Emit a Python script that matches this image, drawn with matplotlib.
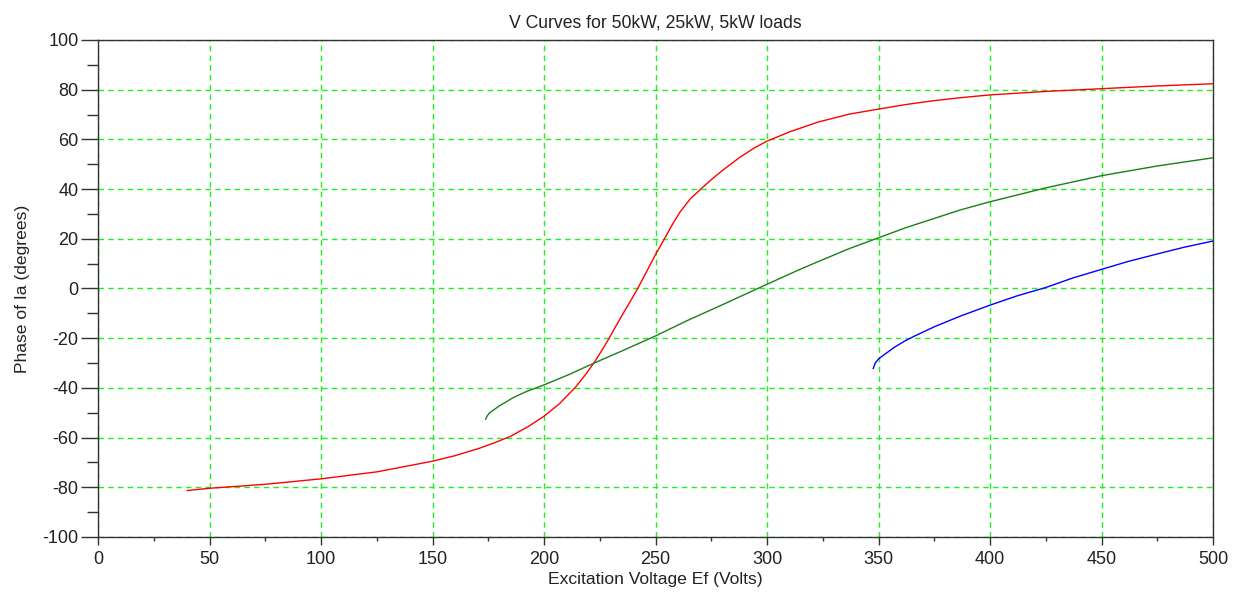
import matplotlib
matplotlib.use("Agg")
import matplotlib.pyplot as plt
from matplotlib.ticker import MultipleLocator

# values
ef_50kw = [40, 50, 75, 100, 125, 150, 160, 171, 178, 185, 193, 200, 207, 214, 219,
           222.7, 226, 229.2, 232.3, 235.5, 238.8, 242, 246, 250, 254, 257.7, 261,
           265.5, 271, 275.5, 280, 287.5, 294, 300, 310, 323, 337, 350, 362, 375,
           387, 400, 425, 450, 475, 500]
phase_50kw = [-81.3, -80.4, -78.8, -76.6, -73.8, -69.5, -67.3, -64.3, -62.0, -59.5,
              -55.5, -51.4, -46.3, -39.8, -34.2, -29.5, -24.8, -20.0, -15.0, -10.0,
              -5.0, 0.0, 6.8, 13.7, 20.0, 26.0, 30.8, 36.0, 40.6, 44.2, 47.5, 52.6,
              56.4, 59.3, 63.0, 67.0, 70.2, 72.2, 74.0, 75.6, 76.8, 77.9, 79.3, 80.4,
              81.5, 82.4]

ef_25kw = [173.8, 174.5, 175.5, 177.2, 180, 183.1, 186, 192, 200, 211, 222.5, 236,
           250, 264, 278.6, 290, 300, 314, 325, 337, 350, 362, 375, 387, 400, 425,
           450, 475, 500]
phase_25kw = [-52.6, -51.3, -50.1, -49.0, -47.2, -45.6, -44.0, -41.5, -38.8, -34.7,
              -30.0, -24.7, -19.1, -13.0, -7.1, -2.4, 1.7, 7.4, 11.6, 16.1, 20.4,
              24.4, 28.2, 31.7, 34.9, 40.5, 45.4, 49.3, 52.6]

ef_5kw = [347.6, 348.5, 350, 353.2, 357, 362, 366.7, 375, 387, 400, 412, 425, 437,
          450, 462, 475, 487, 500]
phase_5kw = [-32.2, -30.0, -28.3, -26.2, -23.7, -21.0, -18.9, -15.4, -11.0, -6.7,
             -3.0, 0.4, 4.2, 7.7, 10.9, 13.9, 16.6, 19.1]

plt.rcParams['font.family'] = ['Liberation Sans', 'DejaVu Sans']
plt.rcParams['axes.unicode_minus'] = False

fig = plt.figure(figsize=(12.39, 5.95), dpi=100)
ax = fig.add_axes([0.0791, 0.0975, 0.9, 0.8353])

ax.plot(ef_50kw, phase_50kw, color='#ff0000', lw=1.0, zorder=3)
ax.plot(ef_25kw, phase_25kw, color='#1a7f1a', lw=1.0, zorder=3)
ax.plot(ef_5kw, phase_5kw, color='#0000ff', lw=1.0, zorder=3)

ax.set_xlim(0, 500)
ax.set_ylim(-100, 100)
ax.xaxis.set_major_locator(MultipleLocator(50))
ax.xaxis.set_minor_locator(MultipleLocator(25))
ax.yaxis.set_major_locator(MultipleLocator(20))
ax.yaxis.set_minor_locator(MultipleLocator(10))

ax.grid(True, which='major', color='#22ee22', linestyle=(0, (4, 3)), lw=1.0, zorder=1)
ax.set_axisbelow(True)

ax.tick_params(axis='x', which='major', length=6, width=1, color='#333333',
               labelsize=13, labelcolor='#222222', pad=4)
ax.tick_params(axis='x', which='minor', length=3, width=1, color='#333333')
ax.tick_params(axis='y', which='major', length=12, width=1, color='#333333',
               labelsize=13, labelcolor='#222222', pad=2)
ax.tick_params(axis='y', which='minor', length=8, width=1, color='#333333')

for side in ax.spines.values():
    side.set_color('#333333')
    side.set_linewidth(1.0)

ax.set_title('V Curves for 50kW, 25kW, 5kW loads', fontsize=12.7, color='#222222', pad=9)
ax.set_xlabel('Excitation Voltage Ef (Volts)', fontsize=12.6, color='#222222', labelpad=3)
ax.set_ylabel('Phase of Ia (degrees)', fontsize=12.6, color='#222222', labelpad=9)

fig.savefig('out.png', dpi=100)
